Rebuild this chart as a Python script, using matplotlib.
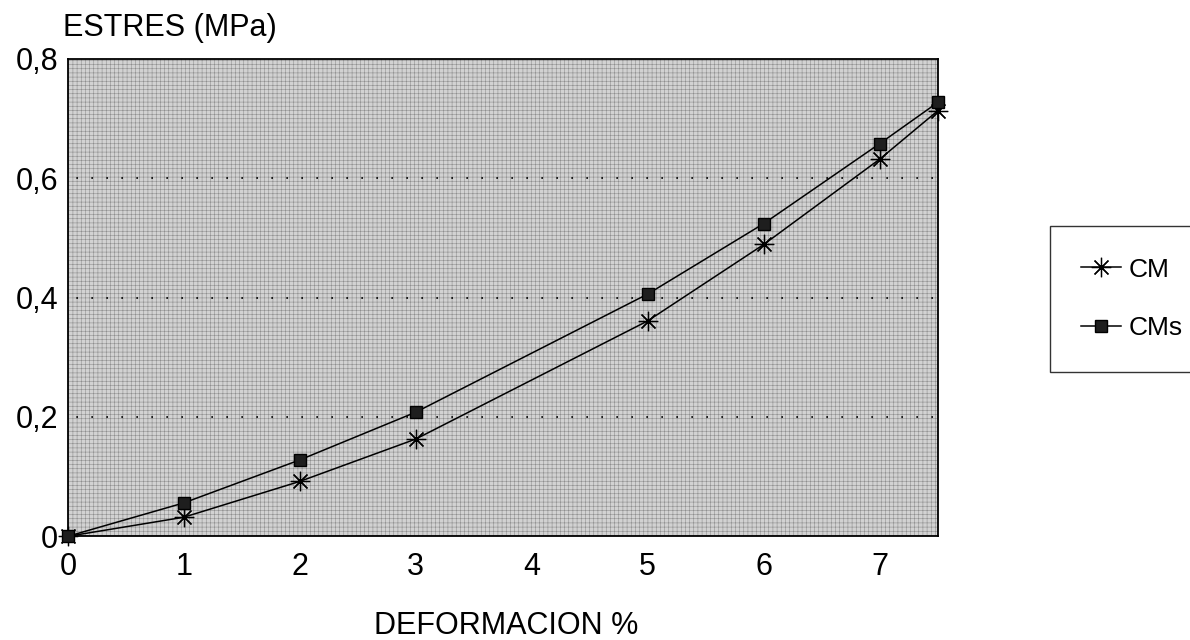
import matplotlib
matplotlib.use("Agg")
import matplotlib.pyplot as plt
import numpy as np

# datos
deformacion = [0, 1, 2, 3, 5, 6, 7, 7.5]
estres_cm = [0, 0.032, 0.092, 0.163, 0.361, 0.489, 0.632, 0.713]
estres_cms = [0, 0.056, 0.128, 0.208, 0.406, 0.524, 0.658, 0.727]
yticks = [0, 0.2, 0.4, 0.6, 0.8]
ytick_labels = ["0", "0,2", "0,4", "0,6", "0,8"]
xticks = [0, 1, 2, 3, 4, 5, 6, 7]

plt.rcParams['font.family'] = ['Liberation Sans', 'DejaVu Sans']
plt.rcParams['hatch.linewidth'] = 0.4

fig = plt.figure(figsize=(11.9, 6.4), dpi=100)
ax = fig.add_axes([0.057, 0.162, 0.731, 0.746])

# fondo punteado gris
ax.set_facecolor('#d2d2d2')
ax.patch.set_hatch('++++')
ax.patch.set_edgecolor('#8e8e8e')
ax.patch.set_linewidth(0)

for yv in yticks[1:-1]:
    ax.axhline(yv, color='black', linewidth=1.2, linestyle=(4, (1, 8)), zorder=2)

ax.plot(deformacion, estres_cm, color='black', linewidth=1.1,
        marker=(8, 2, 0), markersize=14, markeredgewidth=0.9,
        markeredgecolor='black', label='CM', zorder=3, clip_on=False)
ax.plot(deformacion, estres_cms, color='black', linewidth=1.1,
        marker='s', markersize=8, markerfacecolor='#1e1e1e',
        markeredgecolor='black', label='CMs', zorder=4, clip_on=False)

ax.set_xlim(0, 7.5)
ax.set_ylim(0, 0.8)
ax.set_xticks(xticks)
ax.set_xticklabels([str(v) for v in xticks], fontsize=22)
ax.set_yticks(yticks)
ax.set_yticklabels(ytick_labels, fontsize=22)
ax.tick_params(axis='x', length=0, pad=11)
ax.tick_params(axis='y', length=0, pad=7)

for s in ax.spines.values():
    s.set_linewidth(1.3)
    s.set_color('black')

fig.text(0.053, 0.956, 'ESTRES (MPa)', fontsize=22, ha='left', va='center')
fig.text(0.425, 0.022, 'DEFORMACION %', fontsize=22, ha='center', va='center')

leg = ax.legend(loc='upper left', bbox_to_anchor=(0.882, 0.647),
                bbox_transform=fig.transFigure, fontsize=19,
                frameon=True, fancybox=False, edgecolor='black',
                handlelength=1.5, handletextpad=0.3, labelspacing=1.3,
                borderpad=1.2, borderaxespad=0)
leg.get_frame().set_linewidth(1.0)

fig.savefig('out.png', dpi=100)
